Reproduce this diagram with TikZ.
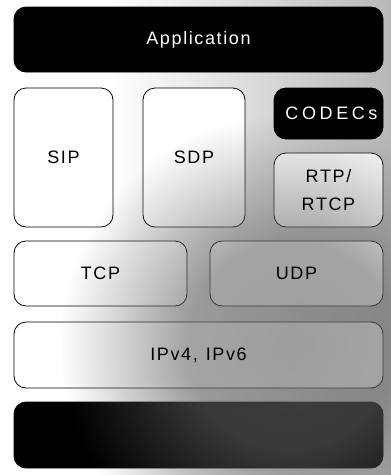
\documentclass[tikz,border=0pt]{standalone}
\usepackage{fontspec}
\setmainfont{Liberation Sans}
\newfontfamily\layerfont[LetterSpace=9]{Liberation Sans}
\newfontfamily\widelayerfont[LetterSpace=20]{Liberation Sans}
\usetikzlibrary{fadings}

% soft grey wash that darkens the lower right part of the stack:
% a flat core that dies away towards the upper left
\pgfdeclareradialshading{washshade}{\pgfpointorigin}{%
  color(0bp)=(white!62!black); color(11bp)=(white!58!black);
  color(17bp)=(white!32!black); color(24.5bp)=(black); color(50bp)=(black)}
\pgfdeclarefading{wash}{\pgfuseshading{washshade}}
\definecolor{washgray}{gray}{0.39}

\begin{document}
\begin{tikzpicture}[x=1pt, y=-1pt,
  layerbox/.style={draw=black, line width=0.8pt, rounded corners=12pt,
    inner sep=0pt, outer sep=0pt},
  lightbox/.style={layerbox, fill=white},
  darkbox/.style={layerbox, fill=black},
  caption/.style={font={\layerfont\fontsize{18}{28}\selectfont},
    text=black, align=center, inner sep=0pt},
  invcaption/.style={caption, text=white}]

\useasboundingbox[fill=white] (0,0) rectangle (391,475);

% background greys out towards the right edge
\shade[left color=white, right color=black!28] (110,0) rectangle (391,475);

% protocol layers
\node[lightbox, minimum width=99pt,  minimum height=139pt] (sip)  at (63.5,157.5) {};
\node[lightbox, minimum width=102pt, minimum height=139pt] (sdp)  at (194,157.5) {};
\node[lightbox, minimum width=109pt, minimum height=74pt]  (rtp)  at (328.5,190) {};
\node[lightbox, minimum width=173pt, minimum height=65pt]  (tcp)  at (100.5,273.5) {};
\node[lightbox, minimum width=173pt, minimum height=65pt]  (udp)  at (296.5,273.5) {};
\node[lightbox, minimum width=369pt, minimum height=66pt]  (ip)   at (198.5,355) {};
\node[darkbox,  minimum width=369pt, minimum height=66pt]  (link) at (198.5,435) {};

% grey wash over the stack
\fill[washgray, path fading=wash, fit fading=false,
      fading transform={shift={(290,345)}, scale=9.4}]
  (0,0) rectangle (391,475);

% solid top blocks
\node[darkbox, minimum width=369pt, minimum height=65pt] (app)    at (198.5,39.5) {};
\node[darkbox, minimum width=109pt, minimum height=51pt] (codecs) at (328.5,113.5) {};

% labels
\node[invcaption] (appT) at (app) {Application};
\node[invcaption, font={\widelayerfont\fontsize{18}{28}\selectfont}] (codecsT) at ([xshift=3pt]codecs.center) {CODECs};
\node[caption] (sipT) at (sip) {SIP};
\node[caption] (sdpT) at (sdp) {SDP};
\node[caption] (rtpT) at (rtp) {RTP/\\RTCP};
\node[caption] (tcpT) at (tcp) {TCP};
\node[caption] (udpT) at (udp) {UDP};
\node[caption] (ipT)  at (ip)  {IPv4,\hspace{8pt}IPv6};
\end{tikzpicture}
\end{document}
